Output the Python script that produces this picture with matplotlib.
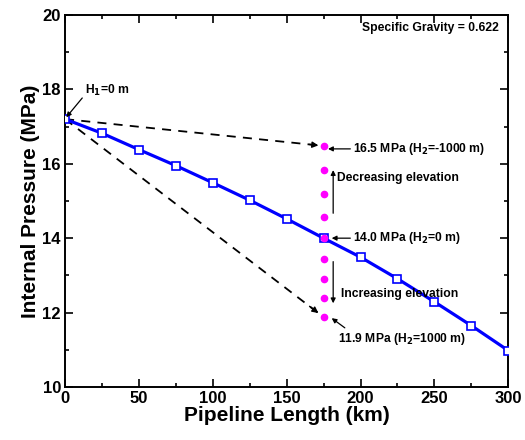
import matplotlib
matplotlib.use("Agg")
import matplotlib.pyplot as plt
import numpy as np
from matplotlib.ticker import MultipleLocator

plt.rcParams['font.family'] = ['Liberation Sans', 'DejaVu Sans']
plt.rcParams['font.weight'] = 'bold'

# pipeline pressure profile (H2 = 0 m)
length_km = [0, 25, 50, 75, 100, 125, 150, 175, 200, 225, 250, 275, 300]
pressure = [17.2, 16.82, 16.38, 15.95, 15.49, 15.02, 14.52, 14.0, 13.49, 12.91, 12.29, 11.65, 10.98]

# outlet pressure at 175 km for different end elevations
elev_x = 175
elevations = [-1000, -750, -500, -250, 0, 250, 500, 750, 1000]
elev_pressure = [16.48, 15.82, 15.19, 14.58, 14.0, 13.45, 12.9, 12.38, 11.88]

fig, ax = plt.subplots(figsize=(5.25, 4.4), dpi=100)
fig.subplots_adjust(left=0.124, right=0.968, top=0.966, bottom=0.1205)

# dashed guide lines from inlet to the extreme elevations
for yend in [elev_pressure[0], elev_pressure[-1]]:
    x0, y0 = length_km[0], pressure[0]
    xt = elev_x - 3.5
    yt = y0 + (yend - y0) * (xt - x0) / (elev_x - x0)
    ax.plot([x0, xt], [y0, yt], color='black', lw=1.3, ls=(0, (5, 4)), zorder=2)
    xs = xt - 6
    ys = y0 + (yend - y0) * (xs - x0) / (elev_x - x0)
    ax.annotate('', xy=(xt, yt), xytext=(xs, ys),
                arrowprops=dict(arrowstyle='-|>', color='black', lw=1.0,
                                mutation_scale=9, shrinkA=0, shrinkB=0))

ax.plot(length_km, pressure, color='#0000ff', lw=2.3, marker='s', ms=6,
        mfc='white', mec='#0000ff', mew=1.2, zorder=3)
ax.plot([elev_x] * len(elev_pressure), elev_pressure, ls='none', marker='o',
        ms=4.5, color='#ff00ff', zorder=4)

fs = 8.7
arrow = dict(arrowstyle='-|>', color='black', lw=0.9, mutation_scale=7,
             shrinkA=0, shrinkB=0)

ax.annotate('H$_\\mathbf{1}$=0 m', xy=(0.8, 17.25), xytext=(13.5, 17.98),
            fontsize=fs, fontweight='bold', va='center', ha='left',
            arrowprops=dict(arrow, relpos=(0, 0.2)))
ax.annotate('16.5 MPa (H$_\\mathbf{2}$=-1000 m)', xy=(178, 16.4), xytext=(195, 16.4),
            fontsize=fs, fontweight='bold', va='center', ha='left',
            arrowprops=arrow)
ax.annotate('14.0 MPa (H$_\\mathbf{2}$=0 m)', xy=(180.5, 14.0), xytext=(195, 14.0),
            fontsize=fs, fontweight='bold', va='center', ha='left',
            arrowprops=arrow)
ax.annotate('11.9 MPa (H$_\\mathbf{2}$=1000 m)', xy=(180.5, 11.85), xytext=(185, 11.3),
            fontsize=fs, fontweight='bold', va='center', ha='left',
            arrowprops=dict(arrow, relpos=(0.08, 1.0)))

ax.annotate('', xy=(181.5, 15.83), xytext=(181.5, 14.67), arrowprops=arrow)
ax.text(184, 15.61, 'Decreasing elevation', fontsize=fs, fontweight='bold',
        va='center', ha='left')
ax.annotate('', xy=(181.5, 12.25), xytext=(181.5, 13.37), arrowprops=arrow)
ax.text(186.5, 12.49, 'Increasing elevation', fontsize=fs, fontweight='bold',
        va='center', ha='left')

ax.text(294, 19.65, 'Specific Gravity = 0.622', fontsize=fs, fontweight='bold',
        va='center', ha='right')

ax.set_xlim(0, 300)
ax.set_ylim(10, 20)
ax.xaxis.set_major_locator(MultipleLocator(50))
ax.xaxis.set_minor_locator(MultipleLocator(25))
ax.yaxis.set_major_locator(MultipleLocator(2))
ax.yaxis.set_minor_locator(MultipleLocator(1))
ax.tick_params(which='both', direction='in', top=True, right=True, width=1.2)
ax.tick_params(which='major', length=6, labelsize=12, pad=3)
ax.tick_params(which='minor', length=3)
for lab in ax.get_xticklabels() + ax.get_yticklabels():
    lab.set_fontweight('bold')
for sp in ax.spines.values():
    sp.set_linewidth(1.4)

ax.set_xlabel('Pipeline Length (km)', fontsize=15, fontweight='bold', labelpad=0)
ax.set_ylabel('Internal Pressure (MPa)', fontsize=15, fontweight='bold', labelpad=2)

fig.savefig('out.png', dpi=100)
